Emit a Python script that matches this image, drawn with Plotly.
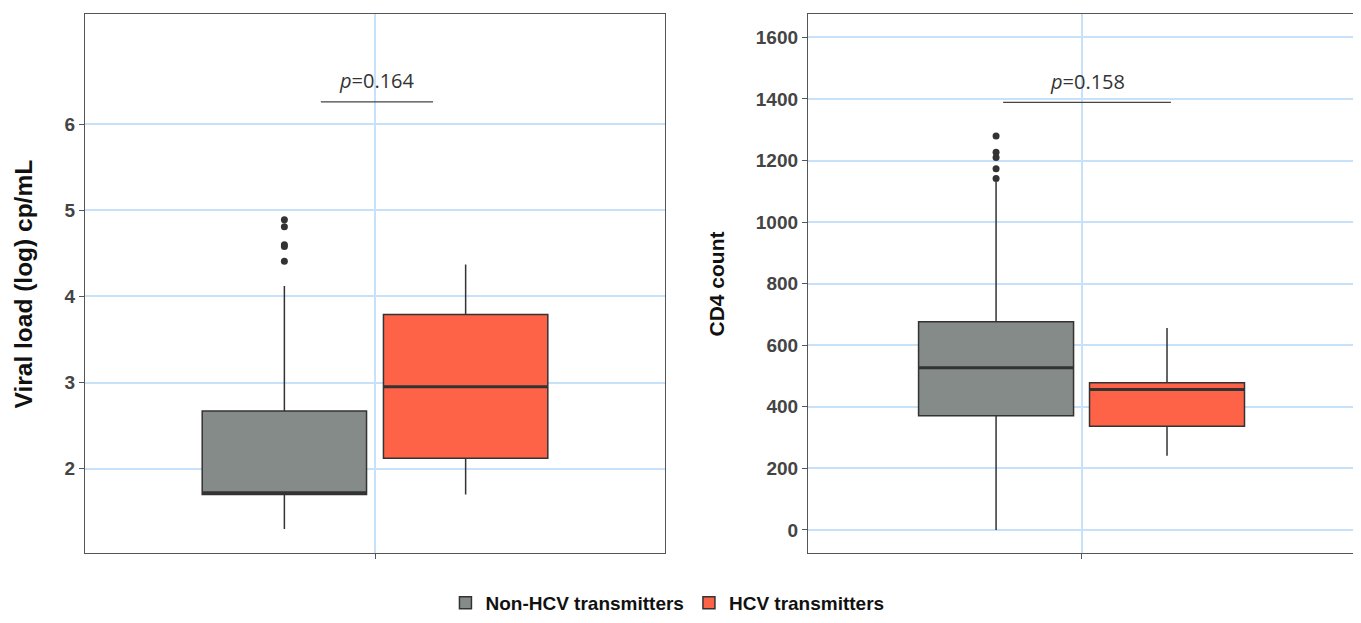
import plotly.graph_objects as go

# ---------------- data ----------------
groups = ["Non-HCV transmitters", "HCV transmitters"]
group_pos = [0.8125, 1.1875]
box_width = 0.34
colors = ["#858b88", "#ff6347"]

# Viral load (log) cp/mL
vl_q1 = [1.70, 2.12]
vl_median = [1.72, 2.95]
vl_q3 = [2.67, 3.79]
vl_low = [1.30, 1.70]
vl_high = [4.12, 4.37]
vl_outliers = [[4.89, 4.81, 4.60, 4.58, 4.41], []]
vl_ticks = [2, 3, 4, 5, 6]
vl_p_text = "<i>p</i>=0.164"
vl_p_y = 6.26
vl_p_x = [0.888, 1.12]

# CD4 count
cd_q1 = [371, 337]
cd_median = [527, 456]
cd_q3 = [676, 478]
cd_low = [0, 241]
cd_high = [1130, 656]
cd_outliers = [[1280, 1227, 1210, 1173, 1142], []]
cd_ticks = [0, 200, 400, 600, 800, 1000, 1200, 1400, 1600]
cd_p_text = "<i>p</i>=0.158"
cd_p_y = 1389
cd_p_x = [0.828, 1.196]

# ---------------- figure ----------------
fig = go.Figure()
line_col = "#333333"
grid_col = "#c8e1fa"

panels = [
    dict(xa="x", ya="y", q1=vl_q1, med=vl_median, q3=vl_q3, lo=vl_low, hi=vl_high, out=vl_outliers),
    dict(xa="x2", ya="y2", q1=cd_q1, med=cd_median, q3=cd_q3, lo=cd_low, hi=cd_high, out=cd_outliers),
]

for pi, p in enumerate(panels):
    for gi, g in enumerate(groups):
        fig.add_trace(go.Box(
            x=[group_pos[gi]], q1=[p["q1"][gi]], median=[p["med"][gi]], q3=[p["q3"][gi]],
            lowerfence=[p["lo"][gi]], upperfence=[p["hi"][gi]],
            width=box_width, whiskerwidth=0, boxpoints=False,
            fillcolor=colors[gi], line=dict(color=line_col, width=1.5),
            name=g, legendgroup=g, showlegend=(pi == 0),
            xaxis=p["xa"], yaxis=p["ya"], hoverinfo="skip",
        ))
        # thicker median line (ggplot style)
        fig.add_trace(go.Scatter(
            x=[group_pos[gi] - box_width / 2, group_pos[gi] + box_width / 2],
            y=[p["med"][gi], p["med"][gi]], mode="lines",
            line=dict(color=line_col, width=3), showlegend=False,
            xaxis=p["xa"], yaxis=p["ya"], hoverinfo="skip",
        ))
        if p["out"][gi]:
            fig.add_trace(go.Scatter(
                x=[group_pos[gi]] * len(p["out"][gi]), y=p["out"][gi], mode="markers",
                marker=dict(color=line_col, size=7), showlegend=False,
                xaxis=p["xa"], yaxis=p["ya"], hoverinfo="skip",
            ))

# p-value brackets
for xa, ya, px, py, txt, off in [("x", "y", vl_p_x, vl_p_y, vl_p_text, 0.245),
                                 ("x2", "y2", cd_p_x, cd_p_y, cd_p_text, 68)]:
    fig.add_trace(go.Scatter(x=px, y=[py, py], mode="lines", line=dict(color="#444444", width=1.2),
                             showlegend=False, xaxis=xa, yaxis=ya, hoverinfo="skip"))
    fig.add_annotation(x=(px[0] + px[1]) / 2, y=py + off, xref=xa, yref=ya, text=txt, showarrow=False,
                       font=dict(family="Open Sans", size=20, color="#333333"))

axis_common = dict(showline=True, mirror=True, linecolor="#555555", linewidth=1.3,
                   ticks="outside", tickcolor="#555555", ticklen=5, tickwidth=1,
                   showgrid=True, gridcolor=grid_col, gridwidth=1.6, zeroline=False)
tickfont = dict(family="Liberation Sans", size=19, color="#444444", weight="bold")

ydom = [0.1138, 0.9902]
fig.update_layout(
    width=1353, height=615, margin=dict(l=0, r=0, t=0, b=0),
    plot_bgcolor="white", paper_bgcolor="white",
    xaxis=dict(domain=[0.0569, 0.4856], range=[0.4, 1.6], tickvals=[1], ticktext=[""], anchor="y", **axis_common),
    yaxis=dict(domain=ydom, range=[1.02, 7.28], tickvals=vl_ticks, tickfont=tickfont, anchor="x", **axis_common),
    xaxis2=dict(domain=[0.5913, 0.9956], range=[0.4, 1.6], tickvals=[1], ticktext=[""], anchor="y2", **axis_common),
    yaxis2=dict(domain=ydom, range=[-75, 1676], tickvals=cd_ticks, tickfont=tickfont, anchor="x2", **axis_common),
    legend=dict(orientation="h", x=0.4874, y=0.0325, xanchor="center", yanchor="middle",
                font=dict(family="Liberation Sans", size=19, color="#111111", weight="bold"),
                itemwidth=30, tracegroupgap=0),
    boxmode="overlay",
)

fig.add_annotation(x=0.0118, y=0.552, xref="paper", yref="paper", text="Viral load (log) cp/mL", textangle=-90,
                   xanchor="center", yanchor="middle",
                   showarrow=False, font=dict(family="Liberation Sans", size=24.5, color="#111111", weight="bold"))
fig.add_annotation(x=0.524, y=0.552, xref="paper", yref="paper", text="CD4 count", textangle=-90,
                   xanchor="center", yanchor="middle",
                   showarrow=False, font=dict(family="Liberation Sans", size=21, color="#111111", weight="bold"))

fig.write_html("out.html")
